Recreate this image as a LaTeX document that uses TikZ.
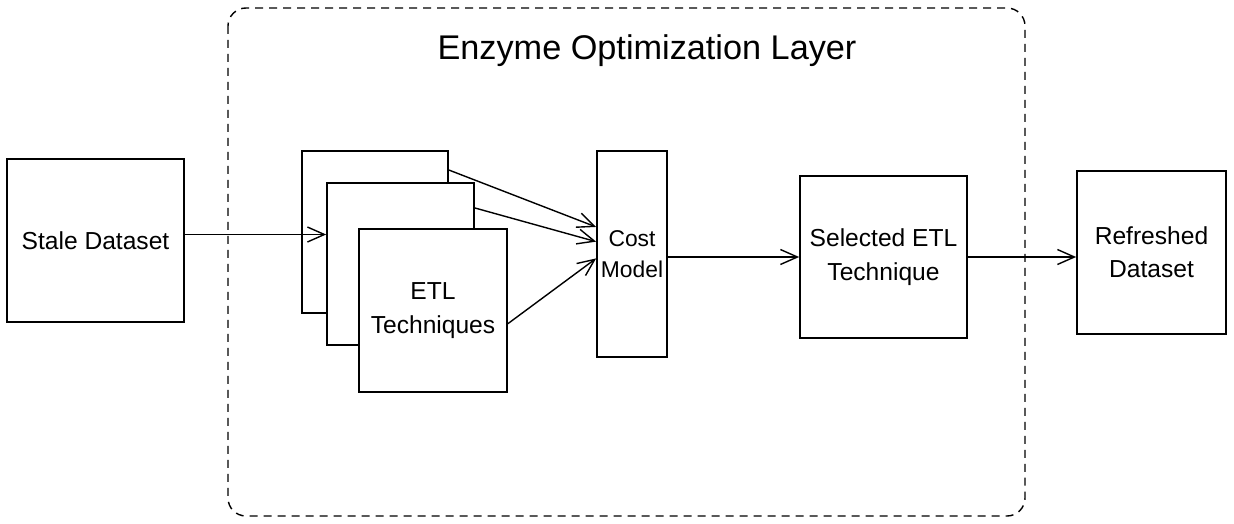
\documentclass[tikz,border=0pt]{standalone}
\usepackage{fontspec}
\setmainfont{Liberation Sans}
\usetikzlibrary{arrows.meta}

\begin{document}
\begin{tikzpicture}[x=0.02cm, y=-0.02cm,
		box/.style={draw, line width=1pt, fill=white, align=center, inner sep=0pt,
			font=\fontsize{14}{19}\selectfont},
		flow/.style={-{Straight Barb[length=0.34cm, width=0.3cm]}, line width=0.8pt}
	]
		\useasboundingbox (0,0) rectangle (1234,524);
		% outer layer
		\draw [line width=0.8pt, dash pattern=on 0.16cm off 0.12cm, rounded corners=0.36cm]
			(228,8) rectangle (1025,516);
		\node (title) at (647,51) {\fontsize{19.5}{24}\selectfont Enzyme Optimization Layer};
		%
		\node [box, minimum width=3.54cm, minimum height=3.26cm] (stale) at (95.5,240.5) {Stale Dataset};
		%
		\node [box, minimum width=2.92cm, minimum height=3.24cm] (etlA) at (375,232) {};
		\node [box, minimum width=2.94cm, minimum height=3.24cm] (etlB) at (400.5,264) {};
		\node [box, minimum width=2.96cm, minimum height=3.26cm] (etlC) at (433,310.5) {ETL\\Techniques};
		%
		\node [box, minimum width=1.4cm, minimum height=4.12cm,
			font=\fontsize{13}{18}\selectfont] (cost) at (632,254) {Cost\\Model};
		\node [box, minimum width=3.34cm, minimum height=3.24cm] (sel) at (883.5,257) {Selected ETL\\Technique};
		\node [box, minimum width=2.98cm, minimum height=3.26cm] (ref) at (1151.5,252.5) {Refreshed\\Dataset};
		%
		\draw [flow] ([yshift=0.12cm]stale.east) -- ([yshift=0.12cm]stale.east -| etlB.west);
		\draw [flow] (etlA.40) -- (cost.143);
		\draw [flow] (etlB.37) -- (cost.161);
		\draw [flow] (etlC.350) -- (cost.187);
		\draw [flow] (cost.east |- sel.west) -- (sel.west);
		\draw [flow] (sel.east) -- (sel.east -| ref.west);
	\end{tikzpicture}
\end{document}
